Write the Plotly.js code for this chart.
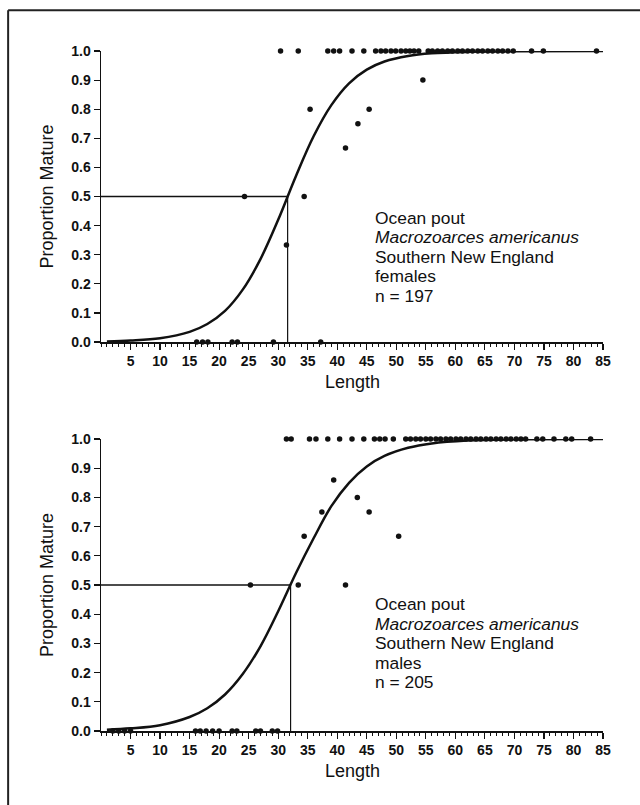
<!DOCTYPE html>
<html><head><meta charset="utf-8">
<script src="https://cdn.plot.ly/plotly-3.0.1.min.js"></script>
<style>html,body{margin:0;padding:0;background:#fff}#chart{width:640px;height:805px}</style>
</head><body><div id="chart"></div>
<script>
// ---- tick labels ----
const xTickVals = [5,10,15,20,25,30,35,40,45,50,55,60,65,70,75,80,85];
const xTickLabels = ["5","10","15","20","25","30","35","40","45","50","55","60","65","70","75","80","85"];
const yTickVals = [0,0.1,0.2,0.3,0.4,0.5,0.6,0.7,0.8,0.9,1.0];
const yTickLabels = ["0.0","0.1","0.2","0.3","0.4","0.5","0.6","0.7","0.8","0.9","1.0"];

// ---- females (top panel) ----
const femaleLength = [30.4,33.4,38.4,39.4,40.4,42.5,44.5,46.5,47.4,48.2,49.1,49.9,50.8,51.6,52.3,53.0,53.8,55.4,56.1,57.0,57.8,58.7,59.5,60.4,61.2,62.1,62.9,63.8,64.6,65.5,66.3,67.2,68.0,68.9,69.8,72.9,74.9,83.9,
  35.4,43.5,41.4,45.4,54.5,24.3,34.4,31.4,
  16.2,17.2,18.1,22.2,23.1,29.2,37.2];
const femaleProp = [1,1,1,1,1,1,1,1,1,1,1,1,1,1,1,1,1,1,1,1,1,1,1,1,1,1,1,1,1,1,1,1,1,1,1,1,1,1,
  0.80,0.75,0.667,0.80,0.90,0.5,0.5,0.333,
  0,0,0,0,0,0,0];
const femaleCurveX = [1,5,10,15,18,21,24,27,30,33,36,39,42,45,48,52,56,62,70,85];
const femaleCurveY = [0.002,0.005,0.013,0.035,0.062,0.107,0.18,0.285,0.42,0.57,0.707,0.814,0.889,0.936,0.964,0.983,0.992,0.997,0.999,1.0];
const femaleL50 = 31.6;

// ---- males (bottom panel) ----
const maleLength = [31.4,32.2,35.3,36.4,38.4,40.4,42.5,44.5,46.3,47.2,48.1,49.5,51.6,52.4,53.3,54.1,55.0,55.8,56.7,57.5,58.4,59.2,60.1,60.9,61.8,62.6,63.5,64.3,65.2,66.0,66.9,67.7,68.6,69.4,70.3,71.1,71.9,73.8,74.8,76.7,78.7,79.7,82.9,
  39.4,43.4,45.4,37.4,34.4,25.3,33.4,41.4,50.4,
  2,3,4,5,16.0,16.8,17.8,18.9,20.0,22.2,23.0,26.2,27.0,29.0,29.9];
const maleProp = [1,1,1,1,1,1,1,1,1,1,1,1,1,1,1,1,1,1,1,1,1,1,1,1,1,1,1,1,1,1,1,1,1,1,1,1,1,1,1,1,1,1,1,
  0.86,0.80,0.75,0.75,0.667,0.5,0.5,0.5,0.667,
  0,0,0,0,0,0,0,0,0,0,0,0,0,0,0];
const maleCurveX = [1,5,10,15,18,21,24,27,30,33,36,39,42,45,48,52,56,62,70,85];
const maleCurveY = [0.004,0.009,0.02,0.048,0.078,0.125,0.195,0.29,0.41,0.54,0.66,0.77,0.85,0.906,0.942,0.97,0.985,0.995,0.999,1.0];
const maleL50 = 32.1;

const femaleText = ["Ocean pout","<i>Macrozoarces americanus</i>","Southern New England","females","n = 197"];
const femaleTextY = [0.4267,0.3596,0.2925,0.2253,0.1582];
const maleText = ["Ocean pout","<i>Macrozoarces americanus</i>","Southern New England","males","n = 205"];
const maleTextY = [0.4349,0.3678,0.3007,0.2336,0.1664];
const textX = 46.2;

const INK = '#111';
const FONT = 'Liberation Sans, Arial, sans-serif';

function panelTraces(cx, cy, L50, px, py, xa, ya) {
  return [
    {x:[0, L50], y:[0.5, 0.5], xaxis:xa, yaxis:ya, mode:'lines', line:{color:INK, width:1.5}, hoverinfo:'skip'},
    {x:[L50, L50], y:[0.5, 0], xaxis:xa, yaxis:ya, mode:'lines', line:{color:INK, width:1.2}, hoverinfo:'skip'},
    {x:cx, y:cy, xaxis:xa, yaxis:ya, mode:'lines', line:{color:INK, width:2.5, shape:'spline', smoothing:1}},
    {x:px, y:py, xaxis:xa, yaxis:ya, mode:'markers', marker:{color:INK, size:5.5}, cliponaxis:false}
  ];
}

const data = [].concat(
  panelTraces(femaleCurveX, femaleCurveY, femaleL50, femaleLength, femaleProp, 'x', 'y'),
  panelTraces(maleCurveX, maleCurveY, maleL50, maleLength, maleProp, 'x2', 'y2')
);

function xAxis(anchor) {
  return {
    domain:[0,1], anchor:anchor, range:[0,85], tickmode:'array', tickvals:xTickVals, ticktext:xTickLabels,
    ticks:'outside', ticklen:6, tickwidth:1.2, tickcolor:INK,
    showline:true, linecolor:INK, linewidth:1.5, showgrid:false, zeroline:false,
    tickfont:{family:FONT, size:14, color:INK, weight:'bold'},
    minor:{tickmode:'linear', tick0:0, dtick:1, ticks:'outside', ticklen:3, tickwidth:1, tickcolor:INK, showgrid:false}
  };
}
function yAxis(anchor, domain) {
  return {
    domain:domain, anchor:anchor, range:[0,1], tickmode:'array', tickvals:yTickVals, ticktext:yTickLabels,
    ticks:'outside', ticklen:6, tickwidth:1.2, tickcolor:INK,
    showline:true, linecolor:INK, linewidth:1.5, showgrid:false, zeroline:false,
    tickfont:{family:FONT, size:14, color:INK, weight:'bold'}
  };
}

const annotations = [];
femaleText.forEach((t,i)=>annotations.push({xref:'x', yref:'y', x:textX, y:femaleTextY[i], text:t, showarrow:false, xanchor:'left', yanchor:'middle', borderpad:0, font:{family:FONT, size:17.4, color:INK}}));
maleText.forEach((t,i)=>annotations.push({xref:'x2', yref:'y2', x:textX, y:maleTextY[i], text:t, showarrow:false, xanchor:'left', yanchor:'middle', borderpad:0, font:{family:FONT, size:17.4, color:INK}}));
[[0.513],[-0.0588]].forEach(v=>annotations.push({xref:'paper', yref:'paper', x:0.5, y:v[0], text:'Length', showarrow:false, xanchor:'center', yanchor:'middle', font:{family:FONT, size:18, color:INK}}));
[0.786, 0.2147].forEach(v=>annotations.push({xref:'paper', yref:'paper', x:-0.1076, y:v, text:'Proportion Mature', textangle:-90, showarrow:false, xanchor:'center', yanchor:'middle', font:{family:FONT, size:18, color:INK}}));

const layout = {
  width:640, height:805, showlegend:false,
  margin:{l:101, r:37, t:51, b:74},
  paper_bgcolor:'#fff', plot_bgcolor:'#fff',
  xaxis:xAxis('y'), yaxis:yAxis('x',[0.572,1]),
  xaxis2:xAxis('y2'), yaxis2:yAxis('x2',[0,0.4294]),
  annotations:annotations,
  shapes:[
    {type:'line', xref:'paper', yref:'paper', x0:-0.185, x1:1.08, y0:1.06, y1:1.06, line:{color:'#222', width:2}},
    {type:'line', xref:'paper', yref:'paper', x0:-0.185, x1:-0.185, y0:1.06, y1:-0.12, line:{color:'#222', width:2}}
  ]
};

Plotly.newPlot('chart', data, layout, {staticPlot:true, displayModeBar:false});
</script></body></html>
